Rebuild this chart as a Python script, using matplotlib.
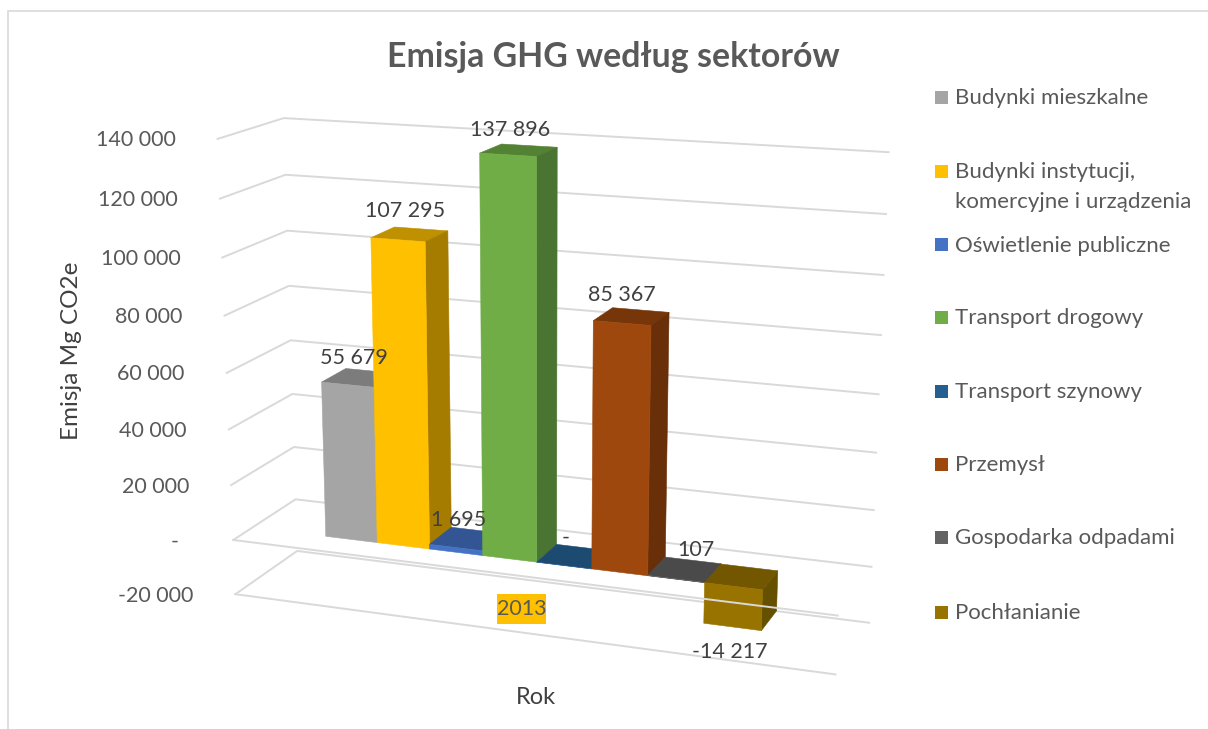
import numpy as np
import matplotlib
matplotlib.use('Agg')
import matplotlib.pyplot as plt
from matplotlib.patches import Rectangle
from mpl_toolkits.mplot3d import proj3d

plt.rcParams['font.family'] = ['Lato', 'DejaVu Sans']

# dane
sectors = ['Budynki mieszkalne', 'Budynki instytucji,\nkomercyjne i urządzenia', 'Oświetlenie publiczne',
           'Transport drogowy', 'Transport szynowy', 'Przemysł', 'Gospodarka odpadami', 'Pochłanianie']
emission = [55679, 107295, 1695, 137896, 0, 85367, 107, -14217]
value_labels = ['55 679', '107 295', '1 695', '137 896', '-', '85 367', '107', '-14 217']
z_ticks = [140000, 120000, 100000, 80000, 60000, 40000, 20000, 0, -20000]
z_tick_labels = ['140 000', '120 000', '100 000', '80 000', '60 000', '40 000', '20 000', '-', '-20 000']
category = '2013'

# kolory: przod, gora, bok
front_colors = ['#a5a5a5', '#ffc000', '#4472c4', '#70ad47', '#255e91', '#9e480e', '#636363', '#997300']
top_colors = ['#7c7c7c', '#bf9000', '#335593', '#548235', '#1c4a70', '#763609', '#4a4a4a', '#735600']
side_colors = ['#6f6f6f', '#a67c00', '#2c4a80', '#4a7431', '#18405f', '#682f08', '#404040', '#655000']

GRID = '#d9d9d9'
TEXT = '#595959'
LABEL = '#404040'
W, H = 1208, 729

# wymiary podlogi w jednostkach slupka
GAP_X = 1.45
GAP_Y = 0.75
X0, X1 = -GAP_X, len(emission) + GAP_X
Y0, Y1 = -GAP_Y, 1 + GAP_Y

# kalibracja kamery: punkt sceny -> piksel obrazu
scene_points = [
    (X0, Y0, 140000), (X0, Y0, 120000), (X0, Y0, 100000), (X0, Y0, 0), (X0, Y0, -20000),
    (X0, Y1, 140000), (X0, Y1, 120000), (X0, Y1, 100000), (X0, Y1, 0), (X0, Y1, -20000),
    (X1, Y1, 140000), (X1, Y1, 120000), (X1, Y1, 100000), (X1, Y1, 80000), (X1, Y1, 0), (X1, Y1, -20000),
    (X1, Y0, 0), (X1, Y0, -20000),
    (0, 0, 0), (8, 0, 0), (8, 1, 0), (8, 0, -14217), (7, 0, -14217), (7, 0, 0), (7, 1, 0),
    (1, 0, 107295), (2, 0, 107295), (2, 1, 107295), (1, 1, 107295), (1, 0, 0), (2, 0, 0),
    (5, 0, 85367), (6, 0, 85367),
]
image_points = [
    (217, 139), (219, 198.5), (222, 257), (233, 540), (235, 595),
    (283, 118), (285, 175), (287, 231), (295, 499), (297, 551),
    (888, 152), (886, 214), (883, 275), (882, 335), (873, 567), (870, 623),
    (839, 616), (837, 675),
    (327, 536), (761, 589), (776, 571), (760, 630), (703, 623), (703, 583), (720, 564),
    (372, 238), (427, 242), (448, 231), (397, 227), (378, 542), (431, 549),
    (593, 321), (650, 325),
]

# przesuniecia etykiet w pikselach
label_offsets = [(-6, 20), (-5, 23), (-8, 19), (-9, 20), (-8, 19), (-10, 21), (11, 20), (-3, -25)]


def fit_camera(world, image):
    scale = np.diag([1, 1, 1e-5, 1.0])
    rows = []
    for (x, y, z), (u, v) in zip(world, image):
        p = scale @ np.array([x, y, z, 1.0])
        rows.append(np.r_[p, 0, 0, 0, 0, -u * p])
        rows.append(np.r_[0, 0, 0, 0, p, -v * p])
    P = np.linalg.svd(np.array(rows))[2][-1].reshape(3, 4) @ scale
    if P[2] @ np.array([4, 0.5, 0, 1.0]) < 0:
        P = -P
    return P


fig = plt.figure(figsize=(W / 100, H / 100), dpi=100)
side = W / H
ax = fig.add_axes([0, (1 - side) / 2, 1, side], projection='3d', computed_zorder=False)
ax.set_axis_off()
# bez tego Line3D obcina punkty po glebi
ax.set_proj_type('ortho')
ax.apply_aspect()

to_axes = ax.transData.inverted()
image2d = to_axes.transform([(u, H - v) for u, v in image_points])
P = fit_camera(scene_points, image2d)
w_mean = np.mean(P[2] @ np.c_[np.array(scene_points), np.ones(len(scene_points))].T)
M = np.vstack([P[0], P[1], [0, w_mean, 0, 0], P[2]])
ax.get_proj = lambda: M


def project(x, y, z):
    px, py, _ = proj3d.proj_transform(x, y, z, M)
    return px, py


# siatka: sciana lewa i tylna
for tick in z_ticks:
    ax.plot([X0, X0, X1], [Y0, Y1, Y1], [tick, tick, tick], color=GRID, lw=1.4, zorder=1)
ax.plot([X0, X1], [Y0, Y0], [-20000, -20000], color=GRID, lw=1.4, zorder=1)

# slupki od lewej do prawej, kazdy nastepny jest blizej
for i, value in enumerate(emission):
    bottom, height = min(value, 0), abs(value)
    # kolejnosc scian w bar3d: dol, gora, przod, tyl, lewa, prawa
    faces = ['none', top_colors[i], front_colors[i], 'none', 'none', side_colors[i]]
    ax.bar3d(i, 0, bottom, 1, 1, height, color=faces, shade=False, edgecolor=faces, linewidth=0.4, zorder=2 + i)

# przednia krawedz podlogi idzie nad slupkiem Pochlanianie
ax.plot([X0, X1], [Y0, Y0], [0, 0], color=GRID, lw=1.4, zorder=20)

for i, value in enumerate(emission):
    z = min(value, 0) if value < 0 else value
    y = 0 if value < 0 else 0.5
    ax.annotate(value_labels[i], project(i + 0.5, y, z), xytext=label_offsets[i], textcoords='offset pixels',
                ha='center', va='center', fontsize=15.5, color=LABEL, zorder=30)

for tick, label in zip(z_ticks, z_tick_labels):
    dx = -55 if tick == 0 else -42
    ax.annotate(label, project(X0, Y0, tick), xytext=(dx, -1.5), textcoords='offset pixels',
                ha='right', va='center', fontsize=15.5, color=TEXT)


def fx(x):
    return x / W


def fy(y):
    return 1 - y / H


fig.text(fx(613), fy(57), 'Emisja GHG według sektorów', ha='center', va='center',
         fontsize=24.4, fontweight='bold', color=TEXT)
fig.text(fx(71), fy(351), 'Emisja Mg CO2e', rotation=90, ha='center', va='center', fontsize=17.5, color='#404040')
fig.text(fx(536), fy(697), 'Rok', ha='center', va='center', fontsize=17, color='#404040')
fig.add_artist(Rectangle((fx(497), fy(624)), 49 / W, 30 / H, transform=fig.transFigure,
                         facecolor='#ffc000', edgecolor='none'))
fig.text(fx(521.5), fy(609), category, ha='center', va='center', fontsize=15.5, color=TEXT)

# ramka wykresu
fig.add_artist(Rectangle((fx(8), fy(H + 20)), fx(W), fy(11) - fy(H + 20), transform=fig.transFigure,
                         facecolor='none', edgecolor=GRID, lw=1.2))

# legenda
legend_y = [97, 171, 244.5, 317, 391, 464, 537, 612]
for name, color, y in zip(sectors, front_colors, legend_y):
    fig.add_artist(Rectangle((fx(935), fy(y + 6.5)), 13 / W, 13 / H, transform=fig.transFigure,
                             facecolor=color, edgecolor='none'))
    lines = name.split('\n')
    for k, line in enumerate(lines):
        fig.text(fx(955), fy(y + 1 + k * 29.5), line, ha='left', va='center', fontsize=16, color=TEXT)

fig.savefig('out.png', dpi=100)
